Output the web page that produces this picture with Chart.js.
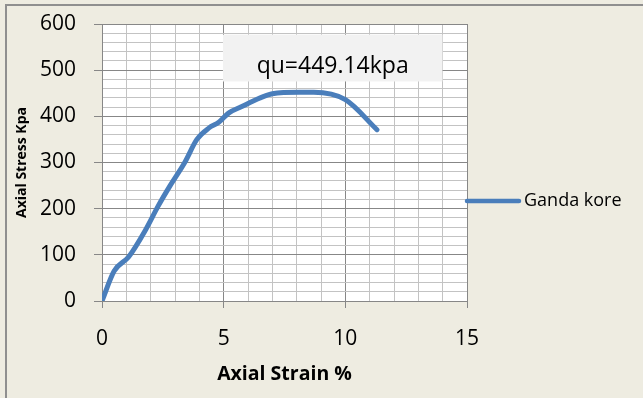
<!DOCTYPE html>
<html><head><meta charset="utf-8">
<script src="https://cdn.jsdelivr.net/npm/chart.js@4.4.0/dist/chart.umd.min.js"></script>
<style>
html,body{margin:0;padding:0;background:#eeece1;overflow:hidden;}
#wrap{position:absolute;left:0;top:0;width:643px;height:398px;}
#frame{position:absolute;left:5px;top:4px;width:700px;height:500px;border:2px solid #8f8f8f;box-sizing:border-box;}
canvas{position:absolute;left:0;top:0;}
</style></head><body>
<div id="wrap"><div id="frame"></div><canvas id="c" width="643" height="398"></canvas></div>
<script>
// Data
const strain = [0, 0.5, 1.1, 1.8, 2.3, 2.8, 3.4, 3.9, 4.4, 4.8, 5.2, 5.7, 6.5, 7.0, 8.1, 8.7, 10.0, 11.3];
const stress = [0, 65, 96, 155, 205, 250, 300, 350, 375, 387, 407, 420, 440, 449, 452, 452, 436, 371];
const seriesName = 'Ganda kore';
const xTickLabels = [0, 5, 10, 15];
const yTickLabels = [0, 100, 200, 300, 400, 500, 600];
const xTitle = 'Axial Strain %';
const yTitle = 'Axial Stress Kpa';
const noteText = 'qu=449.14kpa';

const MAJOR = '#878787', MINOR = '#c3c3c3', LINE = '#4a7ebb';
const FONT = "'Open Sans', sans-serif";

const bgPlugin = {
  id: 'bg',
  beforeDraw(chart) {
    const {ctx, chartArea: a} = chart;
    ctx.save(); ctx.fillStyle = '#ffffff';
    ctx.fillRect(a.left, a.top, a.right - a.left, a.bottom - a.top);
    ctx.restore();
  }
};
const notePlugin = {
  id: 'note',
  afterDraw(chart) {
    const {ctx} = chart; const xs = chart.scales.x, ys = chart.scales.y;
    const x0 = xs.getPixelForValue(4.97), x1 = xs.getPixelForValue(13.99);
    const y0 = ys.getPixelForValue(577), y1 = ys.getPixelForValue(475.5);
    ctx.save();
    ctx.fillStyle = '#f2f2f2';
    ctx.fillRect(x0, y0, x1 - x0, y1 - y0);
    ctx.fillStyle = '#000';
    ctx.font = "23px " + FONT;
    ctx.textAlign = 'center'; ctx.textBaseline = 'alphabetic';
    ctx.fillText(noteText, (x0 + x1) / 2, y1 - 8.5);
    // legend
    const ly = 201;
    ctx.strokeStyle = LINE; ctx.lineWidth = 4.5; ctx.lineCap = 'round';
    ctx.beginPath(); ctx.moveTo(467, ly); ctx.lineTo(519, ly); ctx.stroke();
    ctx.font = "18px " + FONT; ctx.textAlign = 'left'; ctx.textBaseline = 'middle';
    ctx.fillText(chart.data.datasets[0].label, 524, ly);
    ctx.restore();
  }
};

const isMajorX = v => xTickLabels.includes(v);
const isMajorY = v => yTickLabels.includes(v);

new Chart(document.getElementById('c'), {
  type: 'line',
  data: {
    datasets: [{
      label: seriesName,
      data: strain.map((x, i) => ({x: x, y: stress[i]})),
      borderColor: LINE, backgroundColor: LINE, borderWidth: 5,
      pointRadius: 0, cubicInterpolationMode: 'monotone',
      borderCapStyle: 'round', borderJoinStyle: 'round', fill: false
    }]
  },
  options: {
    responsive: false, animation: false, devicePixelRatio: 1,
    layout: {padding: {left: 0, top: 24, right: 176, bottom: 0}},
    plugins: {legend: {display: false}, tooltip: {enabled: false}},
    scales: {
      x: {
        type: 'linear', min: 0, max: 15,
        afterFit: s => { s.height = 97; s.paddingLeft = 0; s.paddingRight = 0; },
        ticks: {stepSize: 1, autoSkip: false, maxRotation: 0, padding: 18, color: '#000',
          font: {family: FONT, size: 21},
          callback: v => isMajorX(v) ? String(v) : ''},
        grid: {color: c => isMajorX(c.tick.value) ? MAJOR : MINOR, lineWidth: 1,
          tickLength: 7, tickColor: c => isMajorX(c.tick.value) ? MAJOR : 'rgba(0,0,0,0)'},
        border: {color: MAJOR, width: 1},
        title: {display: true, text: xTitle, color: '#000', padding: {top: 0, bottom: 12},
          font: {family: FONT, size: 19.5, weight: 'bold'}}
      },
      y: {
        type: 'linear', min: 0, max: 600,
        afterFit: s => { s.width = 102; s.paddingTop = 0; s.paddingBottom = 0; },
        ticks: {stepSize: 20, autoSkip: false, padding: 18, color: '#000',
          font: {family: FONT, size: 21},
          callback: v => isMajorY(v) ? String(v) : ''},
        grid: {color: c => isMajorY(c.tick.value) ? MAJOR : MINOR, lineWidth: 1,
          tickLength: 8, tickColor: c => isMajorY(c.tick.value) ? MAJOR : 'rgba(0,0,0,0)'},
        border: {color: MAJOR, width: 1},
        title: {display: true, text: yTitle, color: '#000', padding: {top: 13.5, bottom: 0},
          font: {family: FONT, size: 14, weight: 'bold'}}
      }
    }
  },
  plugins: [bgPlugin, notePlugin]
});
</script>
</body></html>
